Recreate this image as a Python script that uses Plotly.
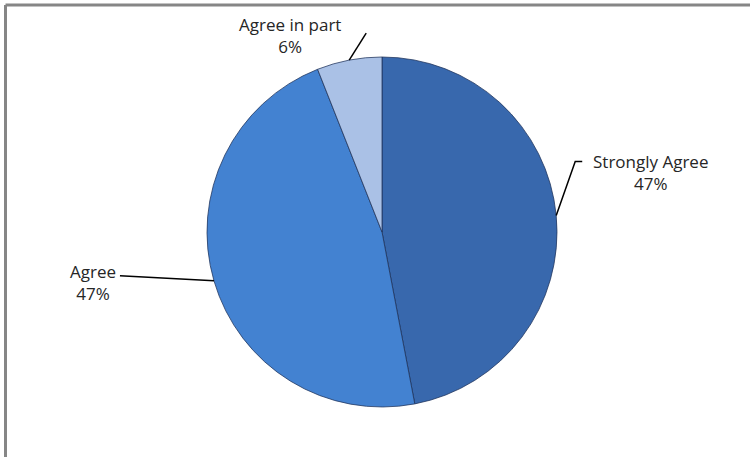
import numpy as np
import plotly.graph_objects as go

labels = ["Strongly Agree", "Agree", "Agree in part"]
values = [47, 47, 6]
colors = ["#3868AD", "#4382D1", "#AAC1E6"]

W, H = 750, 457
# pie geometry in pixels
cx, cy, R = 382, 232, 175

fig = go.Figure(go.Pie(
    labels=labels, values=values, sort=False, direction="clockwise", rotation=0,
    marker=dict(colors=colors, line=dict(color="rgba(30,50,90,0.75)", width=1)),
    textinfo="none", hoverinfo="label+percent", showlegend=False,
    domain=dict(x=[(cx - R) / W, (cx + R) / W], y=[1 - (cy + R) / H, 1 - (cy - R) / H]),
))

# mid angles of slices (clockwise from 12 o'clock)
fr = np.array(values) / np.sum(values)
ends = np.cumsum(fr) * 360
mids = ends - fr * 180
pcts = [f"{round(f*100)}%" for f in fr]

def edge(angle, r=R):
    a = np.radians(angle)
    return cx + r * np.sin(a), cy - r * np.cos(a)

def px(x, y):
    return x / W, 1 - y / H

# label offsets (pixels) per slice: leader path points relative to edge, text anchor
leaders = [
    [(19, -54), (26, -54)],   # Strongly Agree: up then right
    [(-94, -5)],              # Agree
    [(17, -27)],              # Agree in part
]
text_off = [(94, -43), (-121, 2), (-59, -25)]

shapes = []
annotations = []
for i, lab in enumerate(labels):
    ex, ey = edge(mids[i])
    pts = [(ex, ey)] + [(ex + dx, ey + dy) for dx, dy in leaders[i]]
    path = "M " + " L ".join(f"{px(x, y)[0]:.5f},{px(x, y)[1]:.5f}" for x, y in pts)
    shapes.append(dict(type="path", path=path, xref="paper", yref="paper",
                       line=dict(color="#000000", width=1.5)))
    tx, ty = ex + text_off[i][0], ey + text_off[i][1]
    annotations.append(dict(x=px(tx, ty)[0], y=px(tx, ty)[1], xref="paper", yref="paper",
                            text=f"{lab}<br>{pcts[i]}", showarrow=False,
                            xanchor="center", yanchor="middle", align="center",
                            font=dict(family="Open Sans", size=17, color="#262626")))

# chart frame (top and left edges visible)
shapes.append(dict(type="line", xref="paper", yref="paper", x0=5.5 / W, x1=1.0,
                   y0=1 - 5 / H, y1=1 - 5 / H, line=dict(color="#868686", width=3)))
shapes.append(dict(type="line", xref="paper", yref="paper", x0=5.5 / W, x1=5.5 / W,
                   y0=1 - 5 / H, y1=0, line=dict(color="#868686", width=3)))

fig.update_layout(width=W, height=H, margin=dict(l=0, r=0, t=0, b=0),
                  paper_bgcolor="white", plot_bgcolor="white",
                  shapes=shapes, annotations=annotations)
fig.write_html("out.html")
